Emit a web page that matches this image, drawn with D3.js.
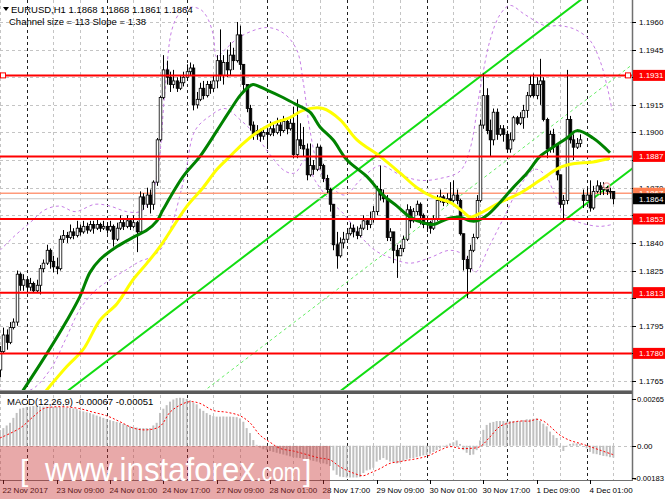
<!DOCTYPE html>
<html><head><meta charset="utf-8">
<script src="https://cdn.jsdelivr.net/npm/d3@7"></script>
<style>body{margin:0;background:#fff}svg{display:block}text{font-family:"Liberation Sans",Arial,sans-serif}</style>
</head><body><svg id="c" width="665" height="499"></svg>
<script>
// ---------- DATA ----------
const symbol = "EURUSD,H1";
const timeLabels = ["22 Nov 2017","23 Nov 09:00","24 Nov 01:00","24 Nov 17:00","27 Nov 09:00","28 Nov 01:00","28 Nov 17:00","29 Nov 09:00","30 Nov 01:00","30 Nov 17:00","1 Dec 09:00","4 Dec 01:00"];
const timeLabelBars = [1,17,33,49,65,81,97,113,129,145,161,177];
const daySeparatorBars = [8,32,56,80,104,128,152,176];
const priceTicks = [1.1765,1.1780,1.1795,1.1810,1.1825,1.1840,1.1855,1.1870,1.1885,1.1900,1.1915,1.1930,1.1945,1.1960];
const levels = [1.1931,1.1887,1.1853,1.1813,1.1780];
const askPrice = 1.1867, bidPrice = 1.1864;
const macdTicks = [0.00265,0.00,-0.00183];

const open = [
1.1771,1.1781,1.1790,1.1786,1.1794,1.1797,1.1823,1.1817,1.1820,1.1816,
1.1818,1.1814,1.1817,1.1826,1.1829,1.1836,1.1830,1.1827,1.1826,1.1842,
1.1844,1.1843,1.1846,1.1844,1.1848,1.1846,1.1849,1.1847,1.1850,1.1848,
1.1850,1.1848,1.1849,1.1847,1.1849,1.1842,1.1848,1.1851,1.1849,1.1852,
1.1849,1.1851,1.1846,1.1865,1.1861,1.1866,1.1861,1.1873,1.1896,1.1919,
1.1934,1.1930,1.1926,1.1928,1.1924,1.1927,1.1930,1.1933,1.1935,1.1915,
1.1918,1.1924,1.1920,1.1926,1.1924,1.1928,1.1939,1.1931,1.1938,1.1934,
1.1942,1.1939,1.1953,1.1937,1.1926,1.1913,1.1904,1.1899,1.1901,1.1898,
1.1900,1.1899,1.1902,1.1900,1.1904,1.1901,1.1906,1.1902,1.1905,1.1888,
1.1896,1.1893,1.1891,1.1877,1.1882,1.1880,1.1892,1.1882,1.1875,1.1869,
1.1861,1.1839,1.1833,1.1840,1.1842,1.1845,1.1848,1.1846,1.1844,1.1848,
1.1852,1.1850,1.1853,1.1857,1.1869,1.1866,1.1864,1.1843,1.1846,1.1836,
1.1833,1.1837,1.1842,1.1858,1.1852,1.1857,1.1861,1.1855,1.1850,1.1851,
1.1848,1.1853,1.1863,1.1865,1.1862,1.1864,1.1863,1.1866,1.1863,1.1845,
1.1831,1.1826,1.1836,1.1843,1.1863,1.1904,1.1920,1.1901,1.1896,1.1911,
1.1899,1.1902,1.1899,1.1891,1.1896,1.1908,1.1905,1.1908,1.1912,1.1920,
1.1926,1.1920,1.1926,1.1928,1.1907,1.1891,1.1899,1.1893,1.1877,1.1861,
1.1863,1.1907,1.1896,1.1892,1.1894,1.1866,1.1863,1.1866,1.1859,1.1868,
1.1871,1.1869,1.1870,1.1868,1.1868];
const high = [
1.1784,1.1794,1.1793,1.1797,1.1799,1.1825,1.1824,1.1823,1.1821,1.1821,
1.1819,1.1820,1.1828,1.1831,1.1839,1.1837,1.1833,1.1832,1.1844,1.1847,
1.1846,1.1850,1.1848,1.1852,1.1850,1.1852,1.1851,1.1852,1.1852,1.1853,
1.1851,1.1852,1.1851,1.1852,1.1850,1.1851,1.1855,1.1853,1.1855,1.1853,
1.1855,1.1852,1.1868,1.1867,1.1870,1.1869,1.1874,1.1897,1.1920,1.1942,
1.1939,1.1933,1.1934,1.1930,1.1931,1.1933,1.1937,1.1938,1.1937,1.1922,
1.1927,1.1928,1.1928,1.1928,1.1931,1.1942,1.1956,1.1942,1.1945,1.1949,
1.1946,1.1960,1.1958,1.1937,1.1926,1.1915,1.1906,1.1904,1.1902,1.1903,
1.1902,1.1906,1.1905,1.1908,1.1907,1.1909,1.1908,1.1909,1.1914,1.1918,
1.1905,1.1903,1.1894,1.1894,1.1885,1.1894,1.1893,1.1883,1.1877,1.1870,
1.1861,1.1846,1.1843,1.1846,1.1848,1.1851,1.1850,1.1849,1.1850,1.1855,
1.1853,1.1857,1.1860,1.1871,1.1882,1.1869,1.1866,1.1848,1.1846,1.1839,
1.1839,1.1844,1.1861,1.1860,1.1859,1.1863,1.1862,1.1856,1.1853,1.1852,
1.1855,1.1866,1.1869,1.1866,1.1867,1.1873,1.1874,1.1869,1.1864,1.1845,
1.1833,1.1839,1.1845,1.1866,1.1907,1.1932,1.1924,1.1907,1.1913,1.1913,
1.1904,1.1904,1.1901,1.1900,1.1909,1.1909,1.1911,1.1915,1.1922,1.1931,
1.1932,1.1930,1.1940,1.1930,1.1908,1.1901,1.1902,1.1893,1.1877,1.1866,
1.1934,1.1909,1.1899,1.1897,1.1899,1.1869,1.1870,1.1874,1.1871,1.1874,
1.1873,1.1873,1.1871,1.1870,1.1868];
const low = [
1.1767,1.1780,1.1782,1.1785,1.1793,1.1795,1.1814,1.1814,1.1813,1.1814,
1.1813,1.1813,1.1812,1.1824,1.1828,1.1826,1.1824,1.1823,1.1825,1.1840,
1.1840,1.1842,1.1842,1.1843,1.1844,1.1845,1.1845,1.1846,1.1845,1.1847,
1.1846,1.1847,1.1845,1.1846,1.1838,1.1841,1.1847,1.1847,1.1848,1.1847,
1.1848,1.1835,1.1845,1.1858,1.1859,1.1856,1.1858,1.1871,1.1895,1.1918,
1.1926,1.1922,1.1924,1.1922,1.1923,1.1925,1.1928,1.1931,1.1912,1.1913,
1.1917,1.1918,1.1919,1.1921,1.1922,1.1924,1.1928,1.1926,1.1930,1.1931,
1.1934,1.1938,1.1934,1.1923,1.1911,1.1901,1.1896,1.1896,1.1895,1.1896,
1.1891,1.1898,1.1898,1.1899,1.1898,1.1900,1.1899,1.1901,1.1886,1.1886,
1.1891,1.1887,1.1874,1.1876,1.1877,1.1879,1.1880,1.1873,1.1867,1.1857,
1.1836,1.1826,1.1832,1.1837,1.1840,1.1844,1.1843,1.1842,1.1843,1.1847,
1.1847,1.1848,1.1851,1.1855,1.1863,1.1862,1.1841,1.1841,1.1829,1.1821,
1.1833,1.1835,1.1841,1.1848,1.1851,1.1855,1.1850,1.1848,1.1846,1.1845,
1.1847,1.1852,1.1862,1.1860,1.1861,1.1862,1.1862,1.1861,1.1844,1.1825,
1.1810,1.1824,1.1835,1.1842,1.1862,1.1902,1.1899,1.1887,1.1893,1.1896,
1.1898,1.1895,1.1889,1.1889,1.1895,1.1904,1.1904,1.1902,1.1908,1.1919,
1.1919,1.1918,1.1915,1.1906,1.1886,1.1889,1.1889,1.1874,1.1859,1.1852,
1.1861,1.1894,1.1885,1.1891,1.1892,1.1859,1.1863,1.1857,1.1858,1.1867,
1.1866,1.1866,1.1866,1.1864,1.1861];
const close = [
1.1781,1.1790,1.1786,1.1794,1.1797,1.1823,1.1817,1.1820,1.1816,1.1818,
1.1814,1.1817,1.1826,1.1829,1.1836,1.1830,1.1827,1.1826,1.1842,1.1844,
1.1843,1.1846,1.1844,1.1848,1.1846,1.1849,1.1847,1.1850,1.1848,1.1850,
1.1848,1.1849,1.1847,1.1849,1.1842,1.1848,1.1851,1.1849,1.1852,1.1849,
1.1851,1.1846,1.1865,1.1861,1.1866,1.1861,1.1873,1.1896,1.1919,1.1934,
1.1930,1.1926,1.1928,1.1924,1.1927,1.1930,1.1933,1.1935,1.1915,1.1918,
1.1924,1.1920,1.1926,1.1924,1.1928,1.1939,1.1931,1.1938,1.1934,1.1942,
1.1939,1.1953,1.1937,1.1926,1.1913,1.1904,1.1899,1.1901,1.1898,1.1900,
1.1899,1.1902,1.1900,1.1904,1.1901,1.1906,1.1902,1.1905,1.1888,1.1896,
1.1893,1.1891,1.1877,1.1882,1.1880,1.1892,1.1882,1.1875,1.1869,1.1861,
1.1839,1.1833,1.1840,1.1842,1.1845,1.1848,1.1846,1.1844,1.1848,1.1852,
1.1850,1.1853,1.1857,1.1869,1.1866,1.1864,1.1843,1.1846,1.1836,1.1833,
1.1837,1.1842,1.1858,1.1852,1.1857,1.1861,1.1855,1.1850,1.1851,1.1848,
1.1853,1.1863,1.1865,1.1862,1.1864,1.1863,1.1866,1.1863,1.1845,1.1831,
1.1826,1.1836,1.1843,1.1863,1.1904,1.1920,1.1901,1.1896,1.1911,1.1899,
1.1902,1.1899,1.1891,1.1896,1.1908,1.1905,1.1908,1.1912,1.1920,1.1926,
1.1920,1.1926,1.1928,1.1907,1.1891,1.1899,1.1893,1.1877,1.1861,1.1863,
1.1907,1.1896,1.1892,1.1894,1.1896,1.1863,1.1866,1.1859,1.1868,1.1871,
1.1869,1.1870,1.1868,1.1868,1.1864];

// MACD main line (histogram), one value per bar
const macdMain = [
0.00089,0.00100,0.00115,0.00130,0.00158,0.00186,0.00210,0.00215,0.00220,0.00222,
0.00225,0.00224,0.00223,0.00222,0.00222,0.00221,0.00220,0.00220,0.00219,0.00218,
0.00217,0.00215,0.00212,0.00208,0.00200,0.00195,0.00190,0.00185,0.00178,0.00171,
0.00165,0.00158,0.00152,0.00145,0.00140,0.00135,0.00130,0.00124,0.00117,0.00110,
0.00106,0.00103,0.00100,0.00100,0.00100,0.00100,0.00115,0.00130,0.00186,0.00210,
0.00230,0.00250,0.00262,0.00270,0.00272,0.00270,0.00265,0.00258,0.00245,0.00235,
0.00210,0.00198,0.00185,0.00175,0.00168,0.00165,0.00165,0.00166,0.00165,0.00165,
0.00164,0.00162,0.00155,0.00136,0.00100,0.00072,0.00032,0.00005,-0.00010,-0.00020,
-0.00025,-0.00030,-0.00035,-0.00040,-0.00045,-0.00050,-0.00055,-0.00060,-0.00065,-0.00068,
-0.00070,-0.00074,-0.00078,-0.00082,-0.00086,-0.00090,-0.00095,-0.00100,-0.00105,-0.00115,
-0.00140,-0.00165,-0.00175,-0.00178,-0.00180,-0.00180,-0.00180,-0.00180,-0.00178,-0.00155,
-0.00140,-0.00135,-0.00125,-0.00090,-0.00080,-0.00070,-0.00080,-0.00090,-0.00095,-0.00100,
-0.00095,-0.00085,-0.00078,-0.00072,-0.00070,-0.00065,-0.00060,-0.00055,-0.00053,-0.00045,
-0.00035,-0.00025,-0.00015,-0.00005,0.00005,0.00013,0.00020,0.00030,0.00010,-0.00025,
-0.00040,-0.00053,-0.00050,-0.00025,0.00030,0.00090,0.00118,0.00130,0.00135,0.00140,
0.00140,0.00140,0.00138,0.00140,0.00140,0.00138,0.00140,0.00145,0.00150,0.00150,
0.00153,0.00155,0.00140,0.00125,0.00110,0.00080,0.00060,0.00044,-0.00010,-0.00030,
-0.00005,0.00010,0.00013,0.00013,0.00010,0.00000,-0.00015,-0.00035,-0.00045,-0.00048,
-0.00053,-0.00058,-0.00060,-0.00065,-0.00067];

// MACD signal line, read at sample bars
const signalBars = [0,6,10,13,16,20,24,28,32,36,40,44,48,51,54,57,60,64,68,72,75,78,81,84,88,92,96,99,102,106,109,111,114,117,120,123,126,129,132,135,138,141,144,147,150,153,156,159,161,163,165,168,171,174,177,180,184];
const signalValues = [0.00044,0.00100,0.00165,0.00210,0.00220,0.00220,0.00210,0.00190,0.00170,0.00136,0.00100,0.00090,0.00110,0.00190,0.00230,0.00250,0.00240,0.00200,0.00190,0.00170,0.00130,0.00060,0.00020,-0.00015,-0.00030,-0.00050,-0.00070,-0.00080,-0.00120,-0.00155,-0.00170,-0.00155,-0.00130,-0.00100,-0.00090,-0.00080,-0.00070,-0.00053,-0.00025,-0.00005,-0.00015,-0.00015,-0.00005,0.00050,0.00110,0.00130,0.00140,0.00140,0.00150,0.00140,0.00110,0.00060,0.00030,0.00013,-0.00005,-0.00025,-0.00051];

// Moving averages, read at sample bars
const maGreenBars = [6.6,14.1,20.1,24,27,30,35.1,39.9,44.1,47.1,48.9,54.9,60,65.1,69,72,74.1,75.9,80.1,84.9,89.1,93,96,99.9,104.1,110.1,114.9,119.1,123,126.9,129.9,134.1,138,141,143.1,146.1,150,153.9,158.1,162,165.9,170.1,173.1,177.9,183];
const maGreenValues = [1.1759,1.1780,1.1798,1.1811,1.1824,1.1831,1.1838,1.1843,1.1847,1.1852,1.1858,1.1876,1.1887,1.1901,1.1912,1.1920,1.1924,1.1926,1.1923,1.1919,1.1915,1.1911,1.1903,1.1896,1.1885,1.1876,1.1866,1.1860,1.1854,1.1851,1.1850,1.1853,1.1854,1.1852,1.1852,1.1855,1.1862,1.1870,1.1878,1.1887,1.1892,1.1897,1.1901,1.1897,1.1889];
const maYellowBars = [13.5,20.1,24.9,30,35.1,39.9,44.1,48,56.1,60.9,65.1,69,72.9,77.1,81.9,87,90.9,96.9,102,107.1,114,120,125.1,129.9,135,138.9,141,144,150,156,162,168,171.9,177.9,183];
const maYellowValues = [1.1759,1.1773,1.1782,1.1798,1.1807,1.1820,1.1829,1.1838,1.1860,1.1870,1.1880,1.1887,1.1894,1.1900,1.1905,1.1908,1.1912,1.1913,1.1907,1.1896,1.1887,1.1878,1.1870,1.1865,1.1862,1.1857,1.1854,1.1856,1.1862,1.1867,1.1874,1.1881,1.1883,1.1884,1.1886];

// Envelope bands (dashed violet), read at sample bars
const bandUpperBars = [0,4.5,9,13.5,18,22.5,28.5,33,38,42,45,47.4,49.5,51.6,54,57,60,62,64,65,67.5,72,80,85,89,91,93,95.4,99,103.5,108,114,120,126,132,138,141,144,147,150,153,157.5,163.5,168,172.5,177,180,182.4,183.6];
const bandUpperValues = [1.1836,1.1844,1.1851,1.1858,1.1860,1.1857,1.1861,1.1860,1.1857,1.1857,1.1863,1.1880,1.1923,1.1956,1.1965,1.1968,1.1967,1.1963,1.1953,1.1941,1.1945,1.1952,1.1957,1.1954,1.1945,1.1927,1.1901,1.1882,1.1871,1.1866,1.1874,1.1882,1.1877,1.1874,1.1875,1.1879,1.1891,1.1923,1.1950,1.1964,1.1969,1.1964,1.1958,1.1958,1.1956,1.1950,1.1939,1.1923,1.1912];
const bandLowerBars = [0,9,15,19.5,24,28.5,33,37.5,42,45,48,51,55.5,58.5,63,67.5,72,76.5,81,85.5,88.5,91.5,94.5,99,103.5,108,112.5,117,123,129,135,139.5,142.5,147,151.5,156,160.5,163.5,166.5,169.5,174,180,183.6];
const bandLowerValues = [1.1760,1.1760,1.1771,1.1787,1.1804,1.1814,1.1820,1.1825,1.1830,1.1832,1.1836,1.1847,1.1877,1.1901,1.1909,1.1913,1.1907,1.1899,1.1888,1.1879,1.1878,1.1885,1.1874,1.1863,1.1855,1.1844,1.1836,1.1832,1.1829,1.1832,1.1836,1.1833,1.1824,1.1839,1.1855,1.1871,1.1880,1.1877,1.1866,1.1855,1.1851,1.1849,1.1850];

// Equidistant channel: lower line anchors and width
const channelBars = [100,190];
const channelLower = [1.17566,1.18808];
const channelWidth = 0.0113;

// ---------- LAYOUT ----------
const svg = d3.select('#c');
const PR = 632;
const MAIN_B = 391, MACD_T = 395, MACD_B = 480;
const x = d3.scaleLinear().domain([0,189.6]).range([0,PR]);
const y = d3.scaleLinear().domain([1.1765,1.1960]).range([381,22]);
const ym = d3.scaleLinear().domain([-0.00183,0.00265]).range([478,399]);

svg.append('rect').attr('width',665).attr('height',499).attr('fill','#fff');
const defs = svg.append('defs');
defs.append('clipPath').attr('id','cm').append('rect').attr('x',0).attr('y',0).attr('width',PR).attr('height',MAIN_B);
defs.append('clipPath').attr('id','cd').append('rect').attr('x',0).attr('y',MACD_T).attr('width',PR).attr('height',MACD_B-MACD_T);

const gMain = svg.append('g').attr('clip-path','url(#cm)');
const gMacd = svg.append('g').attr('clip-path','url(#cd)');

// grid
const gridBars = d3.range(0,190,8);
[gMain,gMacd].forEach((g,k)=>{
  const y0 = k===0?0:MACD_T, y1 = k===0?MAIN_B:MACD_B;
  gridBars.forEach(b=>{
    const sep = daySeparatorBars.includes(b);
    g.append('line').attr('x1',Math.round(x(b))+0.5).attr('x2',Math.round(x(b))+0.5)
      .attr('y1',y0).attr('y2',y1)
      .attr('stroke',sep?'#202020':'#c4c4c4').attr('stroke-dasharray','3,3').attr('stroke-width',1);
  });
});
priceTicks.forEach(p=>{
  gMain.append('line').attr('x1',0).attr('x2',PR).attr('y1',Math.round(y(p))+0.5).attr('y2',Math.round(y(p))+0.5)
    .attr('stroke','#c4c4c4').attr('stroke-dasharray','3,3');
});
gMacd.append('line').attr('x1',0).attr('x2',PR).attr('y1',Math.round(ym(0))+0.5).attr('y2',Math.round(ym(0))+0.5)
  .attr('stroke','#c4c4c4').attr('stroke-dasharray','3,3');

// envelopes
const lineGen = (xs,vs,sc)=>d3.line().curve(d3.curveCatmullRom.alpha(0.5))(xs.map((b,i)=>[x(b),sc(vs[i])]));
gMain.append('path').attr('d',lineGen(bandUpperBars,bandUpperValues,y)).attr('fill','none').attr('stroke','#c77ee6').attr('stroke-dasharray','3,3');
gMain.append('path').attr('d',lineGen(bandLowerBars,bandLowerValues,y)).attr('fill','none').attr('stroke','#c77ee6').attr('stroke-dasharray','3,3');

// channel
const slope = (channelLower[1]-channelLower[0])/(channelBars[1]-channelBars[0]);
const chan = (off,b)=>channelLower[0]+slope*(b-channelBars[0])+off;
[[0,'#11dd11',2,null],[channelWidth,'#11dd11',2,null],[channelWidth/2,'#66ee66',1,'3,3']].forEach(([off,c,w,d])=>{
  gMain.append('line').attr('x1',x(-5)).attr('x2',x(195)).attr('y1',y(chan(off,-5))).attr('y2',y(chan(off,195)))
    .attr('stroke',c).attr('stroke-width',w).attr('stroke-dasharray',d);
});

// bid / ask lines
gMain.append('line').attr('x1',0).attr('x2',PR).attr('y1',y(askPrice)).attr('y2',y(askPrice)).attr('stroke','#ff9a7a').attr('stroke-width',1.5);
gMain.append('line').attr('x1',0).attr('x2',PR).attr('y1',y(bidPrice)).attr('y2',y(bidPrice)).attr('stroke','#c8c8c8').attr('stroke-width',1);

// candles
const bw = 2.6;
open.forEach((o,i)=>{
  const cx = Math.round(x(i))+0.5;
  const c = close[i];
  gMain.append('line').attr('x1',cx).attr('x2',cx).attr('y1',y(high[i])).attr('y2',y(low[i])).attr('stroke','#000').attr('stroke-width',1);
  const top = y(Math.max(o,c)), bot = y(Math.min(o,c));
  gMain.append('rect').attr('x',cx-bw/2).attr('y',top).attr('width',bw).attr('height',Math.max(bot-top,0.8))
    .attr('fill',c>=o?'#fff':'#000').attr('stroke','#000').attr('stroke-width',0.8);
});

// moving averages
gMain.append('path').attr('d',lineGen(maYellowBars,maYellowValues,y)).attr('fill','none').attr('stroke','#ffff00').attr('stroke-width',3);
gMain.append('path').attr('d',lineGen(maGreenBars,maGreenValues,y)).attr('fill','none').attr('stroke','#008200').attr('stroke-width',3);

// red levels
levels.forEach(p=>{
  gMain.append('line').attr('x1',0).attr('x2',PR).attr('y1',y(p)).attr('y2',y(p)).attr('stroke','#ff0000').attr('stroke-width',2);
});
[[3,levels[0]],[628,levels[0]]].forEach(([xx,p])=>{
  gMain.append('rect').attr('x',xx-2.5).attr('y',y(p)-2.5).attr('width',5).attr('height',5).attr('fill','#fff').attr('stroke','#ff0000').attr('stroke-width',1);
});
gMain.append('circle').attr('cx',x(182)).attr('cy',y(1.1871)).attr('r',3).attr('fill','none').attr('stroke','#f4a0a0').attr('stroke-width',1.2);

// MACD histogram + signal
macdMain.forEach((v,i)=>{
  const cx = x(i);
  gMacd.append('rect').attr('x',cx-1).attr('width',2).attr('y',Math.min(ym(v),ym(0))).attr('height',Math.abs(ym(v)-ym(0)))
    .attr('fill','#c0c0c0');
});
gMacd.append('path').attr('d',d3.line().curve(d3.curveCatmullRom)(signalBars.map((b,i)=>[x(b),ym(signalValues[i])])))
  .attr('fill','none').attr('stroke','#ff0000').attr('stroke-width',1).attr('stroke-dasharray','2,2');

// frames
svg.append('rect').attr('x',0).attr('y',MAIN_B).attr('width',PR+1).attr('height',3).attr('fill','#5a5a5a');
svg.append('line').attr('x1',0).attr('x2',PR).attr('y1',MAIN_B-0.5).attr('y2',MAIN_B-0.5).attr('stroke','#a0a0a0');
svg.append('line').attr('x1',PR+0.5).attr('x2',PR+0.5).attr('y1',0).attr('y2',MACD_B).attr('stroke','#707070').attr('stroke-width',1.5);
svg.append('line').attr('x1',0).attr('x2',PR+1).attr('y1',MACD_B+0.5).attr('y2',MACD_B+0.5).attr('stroke','#707070').attr('stroke-width',1);

// price axis
const fs = 8;
const tagged = levels.concat([bidPrice]);
priceTicks.forEach(p=>{
  svg.append('line').attr('x1',PR).attr('x2',PR+4).attr('y1',Math.round(y(p))+0.5).attr('y2',Math.round(y(p))+0.5).attr('stroke','#000');
  const hidden = tagged.some(t=>Math.abs(y(t)-y(p))<9);
  if(!hidden) svg.append('text').attr('x',639).attr('y',y(p)+3).attr('font-size',fs).attr('fill','#000').text(p.toFixed(4));
});
macdTicks.forEach(v=>{
  svg.append('line').attr('x1',PR).attr('x2',PR+4).attr('y1',Math.round(ym(v))+0.5).attr('y2',Math.round(ym(v))+0.5).attr('stroke','#000');
  const t = svg.append('text').attr('x',v<0?634:637).attr('y',ym(v)+3).attr('font-size',fs).attr('fill','#000').text(v===0?'0.00':v.toFixed(5));
  if(v!==0) t.attr('textLength',v<0?30:27).attr('lengthAdjust','spacingAndGlyphs');
});
function tag(p,fill,txt,dy){
  const yy = y(p)+(dy||0);
  svg.append('rect').attr('x',PR+1).attr('y',yy-5.5).attr('width',665-PR-1).attr('height',11).attr('fill',fill);
  svg.append('text').attr('x',639).attr('y',yy+3).attr('font-size',fs).attr('fill','#fff').text(txt);
}
levels.forEach(p=>tag(p,'#ff0000',p.toFixed(4)));
tag(askPrice,'#ff7f50',askPrice.toFixed(4));
tag(bidPrice,'#000000',bidPrice.toFixed(4));

// time axis
timeLabelBars.forEach((b,i)=>{
  const tx = Math.round(x(b))+0.5;
  svg.append('line').attr('x1',tx).attr('x2',tx).attr('y1',MACD_B).attr('y2',MACD_B+4).attr('stroke','#000');
  svg.append('text').attr('x',tx-1).attr('y',493).attr('font-size',fs).attr('fill','#000').text(timeLabels[i]);
});

// headers
const hs = 9.5;
svg.append('path').attr('d','M3,7 L9,7 L6,11 Z').attr('fill','#000');
svg.append('text').attr('x',11).attr('y',13).attr('font-size',hs).attr('fill','#000')
  .text(`${symbol}  ${open[184].toFixed(4)} ${high[184].toFixed(4)} ${low[184].toFixed(4)} ${close[184].toFixed(4)}`);
svg.append('text').attr('x',9).attr('y',25).attr('font-size',hs).attr('fill','#000')
  .text(`Channel size = ${Math.round(channelWidth*10000)} Slope = ${(slope*10000).toFixed(2)}`);
svg.append('text').attr('x',7).attr('y',405).attr('font-size',hs).attr('fill','#000')
  .text(`MACD(12,26,9) ${macdMain[184].toFixed(5)} ${signalValues[signalValues.length-1].toFixed(5)}`);

// watermark
svg.append('rect').attr('x',0).attr('y',446).attr('width',330).attr('height',53).attr('fill','#c83232').attr('opacity',0.42);
const wm = svg.append('g').attr('fill','#fff');
wm.append('text').attr('x',20).attr('y',481).attr('font-size',30).text('[');
wm.append('text').attr('x',45).attr('y',481).attr('font-size',34).attr('textLength',210).attr('lengthAdjust','spacingAndGlyphs').text('www.instaforex');
wm.append('text').attr('x',256).attr('y',481).attr('font-size',26).attr('textLength',45).attr('lengthAdjust','spacingAndGlyphs').text('.com');
wm.append('text').attr('x',303).attr('y',481).attr('font-size',30).text(']');
</script></body></html>
